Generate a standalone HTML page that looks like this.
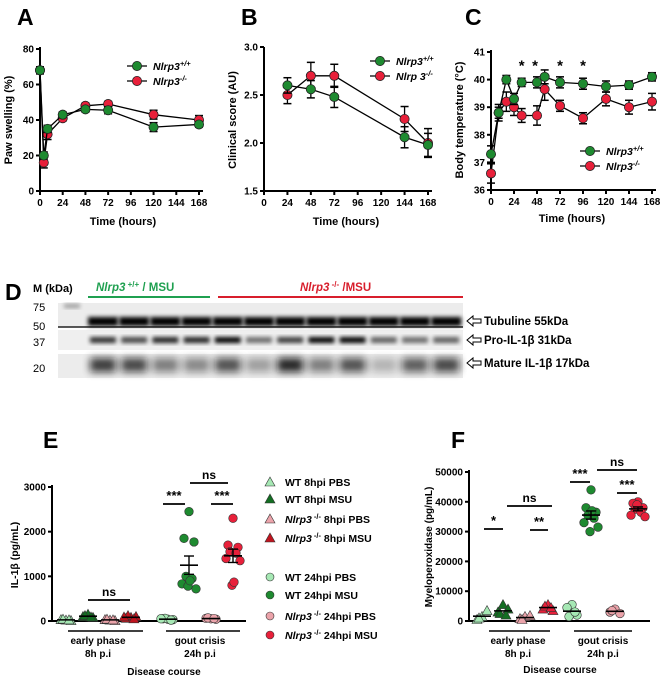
<!DOCTYPE html>
<html><head><meta charset="utf-8"><style>
html,body{margin:0;padding:0;background:#fff}
svg{display:block;font-family:"Liberation Sans",Arial,sans-serif}
</style></head><body>
<svg id="fig" width="665" height="683" viewBox="0 0 665 683" xmlns="http://www.w3.org/2000/svg">
<defs>
<filter id="blur2" x="-20%" y="-50%" width="140%" height="200%"><feGaussianBlur stdDeviation="2.2"/></filter>
<filter id="blur4" x="-30%" y="-80%" width="160%" height="260%"><feGaussianBlur stdDeviation="4"/></filter>
</defs>
<g id="root"></g>
</svg>
<script>
// ---------- DATA ----------
var aTimes=[0,4,8,24,48,72,120,168];
var aWT=[68,20,35,43,46,45.5,36,37.5];
var aWTerr=[2,2,2,1.5,1.5,2,2.5,1.5];
var aKO=[68,16,32,41,48,49,43,40];
var aKOerr=[2,3,3,1.5,1.5,1.5,2.5,2.5];
var aTicksX=[0,24,48,72,96,120,144,168];
var aTicksY=[0,20,40,60,80];

var bTimes=[24,48,72,144,168];
var bWT=[2.6,2.56,2.48,2.06,1.98];
var bWTerr=[0.08,0.09,0.11,0.11,0.12];
var bKO=[2.5,2.7,2.7,2.25,2.0];
var bKOerr=[0.09,0.14,0.12,0.13,0.15];
var bTicksY=[1.5,2.0,2.5,3.0];

var cTimes=[0,8,16,24,32,48,56,72,96,120,144,168];
var cWT=[37.3,38.8,40.0,39.3,39.9,39.9,40.1,39.9,39.85,39.75,39.8,40.1];
var cWTerr=[0.3,0.2,0.15,0.2,0.15,0.2,0.25,0.2,0.2,0.2,0.15,0.15];
var cKO=[36.6,38.8,39.2,39.0,38.7,38.7,39.65,39.05,38.6,39.3,39.0,39.2];
var cKOerr=[0.35,0.3,0.35,0.3,0.25,0.35,0.4,0.2,0.2,0.25,0.25,0.3];
var cTicksY=[36,37,38,39,40,41];
var cStars=[32,46,72,96];

var eWT8PBS=[20,30,10,40,25];
var eWT8MSU=[150,100,80,120,90];
var eKO8PBS=[20,30,10,40,25];
var eKO8MSU=[80,60,100,120,50,90];
var eWT24PBS=[40,50,30,60,20,50];
var eWT24MSU=[2450,1850,1770,1000,950,830,720,780,900];
var eKO24PBS=[50,60,40,70,55];
var eKO24MSU=[2300,1700,1650,1550,1520,1400,1350,800,870];
var eTicksY=[0,1000,2000,3000];

var fWT8PBS=[1500,500,3500,1000];
var fWT8MSU=[5500,3000,4000,2500,2000];
var fKO8PBS=[1500,800,1800,500];
var fKO8MSU=[5500,4000,3500,5000,4500];
var fWT24PBS=[5500,4500,2000,1500,3000];
var fWT24MSU=[44000,38000,36500,35500,34500,33000,31500,30000,37000];
var fKO24PBS=[4000,3000,2500,3500];
var fKO24MSU=[40000,39500,38000,37500,36500,35500,35000,39000];
var fTicksY=[0,10000,20000,30000,40000,50000];

// ---------- HELPERS ----------
var NS="http://www.w3.org/2000/svg";
var root=document.getElementById('root');
function el(tag,attrs,parent,txt){var e=document.createElementNS(NS,tag);for(var k in attrs)e.setAttribute(k,attrs[k]);if(txt!==undefined)e.textContent=txt;(parent||root).appendChild(e);return e;}
function grp(name){var g=el('g',{});


return g;}
var GREEN='#1e8a30',RED='#e8203a',LGREEN='#a6e8b4',PINK='#eba3aa',DRED='#c0141e',DGREEN='#136e22';
function lin(d0,d1,r0,r1){return function(v){return r0+(v-d0)/(d1-d0)*(r1-r0);};}
function txt(x,y,s,opt,parent){opt=opt||{};var a={x:x,y:y,'font-size':opt.size||10,'font-weight':opt.weight||'bold','text-anchor':opt.anchor||'middle',fill:opt.fill||'#000'};if(opt.italic)a['font-style']='italic';if(opt.transform)a.transform=opt.transform;return el('text',a,parent,s);}

function axes(g,x0,y0,x1,y1,ys,yTicks,yFmt,xs,xTicks){
  el('line',{x1:x0,y1:y0,x2:x0,y2:y1,stroke:'#000','stroke-width':2},g);
  el('line',{x1:x0,y1:y0,x2:x1,y2:y0,stroke:'#000','stroke-width':2},g);
  yTicks.forEach(function(t){var y=ys(t);el('line',{x1:x0-4,y1:y,x2:x0,y2:y,stroke:'#000','stroke-width':2},g);txt(x0-6,y+3.5,yFmt(t),{anchor:'end',size:10},g);});
  if(xTicks)xTicks.forEach(function(t){var x=xs(t);el('line',{x1:x,y1:y0,x2:x,y2:y0+4,stroke:'#000','stroke-width':2},g);txt(x,y0+15,String(t),{size:10},g);});
}
function series(g,times,vals,errs,xs,ys,color,name){
  var pts=times.map(function(t,i){return xs(t)+','+ys(vals[i]);}).join(' ');
  var pl=el('polyline',{points:pts,fill:'none',stroke:'#000','stroke-width':1.3},g);
  
  
  times.forEach(function(t,i){var x=xs(t),y=ys(vals[i]),e1=ys(vals[i]+errs[i]),e2=ys(vals[i]-errs[i]);
    el('line',{x1:x,y1:e1,x2:x,y2:e2,stroke:'#000','stroke-width':1.3},g);
    el('line',{x1:x-4,y1:e1,x2:x+4,y2:e1,stroke:'#000','stroke-width':1.5},g);
    el('line',{x1:x-4,y1:e2,x2:x+4,y2:e2,stroke:'#000','stroke-width':1.5},g);
    var c=el('circle',{cx:x,cy:y,r:4.6,fill:color,stroke:'#222','stroke-width':0.8},g);
    
    
  });
}
function legend(g,x,y,color,label,sup){
  el('line',{x1:x-10,y1:y,x2:x+10,y2:y,stroke:'#000','stroke-width':1.3},g);
  el('circle',{cx:x,cy:y,r:4.6,fill:color,stroke:'#222','stroke-width':0.8},g);
  var t=txt(x+16,y+4,label,{anchor:'start',size:10.5,italic:true},g);
  var ts=el('tspan',{dy:-4,'font-size':7.5},t,sup);
}
function panelLabel(x,y,s){var t=txt(x,y,s,{size:23,anchor:'start'});}

// ---------- PANEL A ----------
(function(){var g=grp('panel-a-chart');panelLabel(17,25,'A');
var xs=lin(0,168,40,199),ys=lin(0,80,191,49);
axes(g,40,191,203,47,ys,aTicksY,function(v){return v;},xs,aTicksX);
series(g,aTimes,aKO,aKOerr,xs,ys,RED,'a-ko');
series(g,aTimes,aWT,aWTerr,xs,ys,GREEN,'a-wt');
txt(123,225,'Time (hours)',{size:11},g);
txt(12,120,'Paw swelling (%)',{size:11,transform:'rotate(-90 12 120)'},g);
legend(g,137,66,GREEN,'Nlrp3','+/+');legend(g,137,81,RED,'Nlrp3','-/-');})();

// ---------- PANEL B ----------
(function(){var g=grp('panel-b-chart');panelLabel(241,25,'B');
var xs=lin(0,168,264,428),ys=lin(1.5,3.0,191,47);
axes(g,264,191,432,47,ys,bTicksY,function(v){return v.toFixed(1);},xs,aTicksX);
series(g,bTimes,bKO,bKOerr,xs,ys,RED,'b-ko');
series(g,bTimes,bWT,bWTerr,xs,ys,GREEN,'b-wt');
txt(346,225,'Time (hours)',{size:11},g);
txt(236,120,'Clinical score (AU)',{size:11,transform:'rotate(-90 236 120)'},g);
legend(g,380,61,GREEN,'Nlrp3','+/+');legend(g,380,76,RED,'Nlrp 3','-/-');})();

// ---------- PANEL C ----------
(function(){var g=grp('panel-c-chart');panelLabel(465,25,'C');
var xs=lin(0,168,491,652),ys=lin(36,41,190,52);
axes(g,491,190,656,50,ys,cTicksY,function(v){return v;},xs,aTicksX);
series(g,cTimes,cKO,cKOerr,xs,ys,RED,'c-ko');
series(g,cTimes,cWT,cWTerr,xs,ys,GREEN,'c-wt');
cStars.forEach(function(t){txt(xs(t),ys(40.55)+6,'*',{size:15},g);});
txt(572,222,'Time (hours)',{size:11},g);
txt(463,120,'Body temperature (°C)',{size:11,transform:'rotate(-90 463 120)'},g);
legend(g,590,151,GREEN,'Nlrp3','+/+');legend(g,590,166,RED,'Nlrp3','-/-');})();

// ---------- PANEL D (western blot) ----------
(function(){var g=grp('panel-d-blot');panelLabel(5,300,'D');
txt(33,292,'M (kDa)',{size:11,anchor:'start'},g);
[['75',307],['50',326],['37',342],['20',368]].forEach(function(p){txt(33,p[1]+4,p[0],{size:11,weight:'normal',anchor:'start'},g);});
var t1=txt(96,291,'',{size:11.5,anchor:'start',fill:'#1fa050'},g);
el('tspan',{'font-style':'italic'},t1,'Nlrp3');el('tspan',{dy:-4,'font-size':8},t1,' +/+');el('tspan',{dy:4},t1,' / MSU');
el('line',{x1:88,y1:297,x2:210,y2:297,stroke:'#1fa050','stroke-width':2},g);
var t2=txt(300,291,'',{size:11.5,anchor:'start',fill:'#d81e2c'},g);
el('tspan',{'font-style':'italic'},t2,'Nlrp3');el('tspan',{dy:-4,'font-size':8},t2,' -/-');el('tspan',{dy:4},t2,' /MSU');
el('line',{x1:218,y1:297,x2:463,y2:297,stroke:'#d81e2c','stroke-width':2},g);
// strips
el('rect',{x:58,y:303,width:405,height:24,fill:'#ececec'},g);
el('rect',{x:58,y:330,width:405,height:20,fill:'#efefef'},g);
el('rect',{x:58,y:354,width:405,height:24,fill:'#ececec'},g);
el('line',{x1:58,y1:327,x2:463,y2:327,stroke:'#222','stroke-width':1.5},g);
var proI=[0.8,0.7,0.85,0.85,1,0.55,0.75,1,1,0.6,0.55,0.6];
var matI=[0.8,0.75,0.5,0.45,0.7,0.35,0.9,0.5,0.7,0.25,0.65,0.75];
el('rect',{x:64,y:304,width:16,height:4,fill:'#999',filter:'url(#blur2)'},g);
for(var i=0;i<12;i++){var x=90+i*31.2;
 el('rect',{x:x-2,y:317,width:30,height:9,fill:'#000',filter:'url(#blur2)'},g);
 el('rect',{x:x,y:337,width:26,height:6,fill:'#000',opacity:proI[i],filter:'url(#blur2)'},g);
 el('rect',{x:x,y:358,width:26,height:14,fill:'#111',opacity:matI[i],filter:'url(#blur4)'},g);}
[['Tubuline 55kDa',321],['Pro-IL-1β 31kDa',340],['Mature IL-1β 17kDa',363]].forEach(function(p){
 el('path',{d:'M467 '+p[1]+' l6 -5 v3 h8 v4 h-8 v3 z',fill:'#fff',stroke:'#000','stroke-width':1},g);
 txt(484,p[1]+4,p[0],{size:11.5,anchor:'start'},g);});})();

// ---------- dot plot helper ----------
var jit=[0,-5,5,-3,3,-7,7,-1,1];
function dots(g,vals,x,ys,shape,fill,name,withMean){
 vals.forEach(function(v,i){var cx=x+jit[i%jit.length],cy=ys(v),m;
  if(shape==='c')m=el('circle',{cx:cx,cy:cy,r:4.3,fill:fill,stroke:'#333','stroke-width':0.6},g);
  else m=el('path',{d:'M'+cx+' '+(cy-5)+' l5 9 h-10 z',fill:fill,stroke:'#333','stroke-width':0.6},g);
  
  });
 var mean=vals.reduce(function(a,b){return a+b;},0)/vals.length;
 var sd=Math.sqrt(vals.reduce(function(a,b){return a+(b-mean)*(b-mean);},0)/(vals.length-1)),sem=sd/Math.sqrt(vals.length);
 el('line',{x1:x-9,y1:ys(mean),x2:x+9,y2:ys(mean),stroke:'#000','stroke-width':1.6},g);
 if(withMean){el('line',{x1:x,y1:ys(mean+sem),x2:x,y2:ys(mean-sem),stroke:'#000','stroke-width':1.4},g);
  el('line',{x1:x-5,y1:ys(mean+sem),x2:x+5,y2:ys(mean+sem),stroke:'#000','stroke-width':1.4},g);
  el('line',{x1:x-5,y1:ys(mean-sem),x2:x+5,y2:ys(mean-sem),stroke:'#000','stroke-width':1.4},g);}
}
function sig(g,x1,x2,y,s){el('line',{x1:x1,y1:y,x2:x2,y2:y,stroke:'#000','stroke-width':1.8},g);txt((x1+x2)/2,y-4,s,{size:s==='ns'?12:13},g);}
function bottomLabels(g,c1,c2,b1,b2,yb,dc,dy){
 el('line',{x1:b1[0],y1:yb,x2:b1[1],y2:yb,stroke:'#000','stroke-width':1.5},g);
 el('line',{x1:b2[0],y1:yb,x2:b2[1],y2:yb,stroke:'#000','stroke-width':1.5},g);
 txt(c1,yb+13,'early phase',{size:10},g);txt(c1,yb+26,'8h p.i',{size:10},g);
 txt(c2,yb+13,'gout crisis',{size:10},g);txt(c2,yb+26,'24h p.i',{size:10},g);
 txt(dc,dy,'Disease course',{size:10},g);}

// ---------- PANEL E ----------
(function(){var g=grp('panel-e-chart');panelLabel(43,448,'E');
var ys=lin(0,3000,621,487);
axes(g,52,621,246,485,ys,eTicksY,function(v){return v;});
dots(g,eWT8PBS,66,ys,'t',LGREEN,'e-wt-8h-pbs');dots(g,eWT8MSU,88,ys,'t',DGREEN,'e-wt-8h-msu');
dots(g,eKO8PBS,110,ys,'t',PINK,'e-ko-8h-pbs');dots(g,eKO8MSU,131,ys,'t',DRED,'e-ko-8h-msu');
dots(g,eWT24PBS,168,ys,'c',LGREEN,'e-wt-24h-pbs');dots(g,eWT24MSU,189,ys,'c',GREEN,'e-wt-24h-msu',true);
dots(g,eKO24PBS,211,ys,'c',PINK,'e-ko-24h-pbs');dots(g,eKO24MSU,233,ys,'c',RED,'e-ko-24h-msu',true);
sig(g,88,130,600,'ns');sig(g,163,185,504,'***');sig(g,211,233,504,'***');sig(g,190,228,483,'ns');
bottomLabels(g,98,200,[68,143],[166,240],631,164,675);
txt(18,555,'IL-1β (pg/mL)',{size:10.5,transform:'rotate(-90 18 555)'},g);
var L=[['t',LGREEN,'WT 8hpi PBS',482],['t',DGREEN,'WT 8hpi MSU',499],['t',PINK,'Nlrp3 -/- 8hpi PBS',519],['t',DRED,'Nlrp3 -/- 8hpi MSU',538],
['c',LGREEN,'WT 24hpi PBS',577],['c',GREEN,'WT 24hpi MSU',595],['c',PINK,'Nlrp3 -/-  24hpi PBS',616],['c',RED,'Nlrp3 -/-  24hpi MSU',635]];
L.forEach(function(l){var x=270,y=l[3];
 if(l[0]==='c')el('circle',{cx:x,cy:y,r:4,fill:l[1],stroke:'#333','stroke-width':0.6},g);
 else el('path',{d:'M'+x+' '+(y-5)+' l5 9 h-10 z',fill:l[1],stroke:'#333','stroke-width':0.6},g);
 var t=txt(285,y+4,'',{size:10.5,anchor:'start'},g);
 if(l[2].indexOf('Nlrp3')===0){el('tspan',{'font-style':'italic'},t,'Nlrp3');el('tspan',{dy:-4,'font-size':7.5},t,' -/-');el('tspan',{dy:4},t,l[2].replace('Nlrp3 -/-',''));}
 else t.textContent=l[2];});})();

// ---------- PANEL F ----------
(function(){var g=grp('panel-f-chart');panelLabel(451,448,'F');
var ys=lin(0,50000,621,472);
axes(g,469,621,650,470,ys,fTicksY,function(v){return v;});
dots(g,fWT8PBS,482,ys,'t',LGREEN,'f-wt-8h-pbs');dots(g,fWT8MSU,503,ys,'t',DGREEN,'f-wt-8h-msu');
dots(g,fKO8PBS,525,ys,'t',PINK,'f-ko-8h-pbs');dots(g,fKO8MSU,548,ys,'t',RED,'f-ko-8h-msu');
dots(g,fWT24PBS,572,ys,'c',LGREEN,'f-wt-24h-pbs');dots(g,fWT24MSU,591,ys,'c',GREEN,'f-wt-24h-msu',true);
dots(g,fKO24PBS,615,ys,'c',PINK,'f-ko-24h-pbs');dots(g,fKO24MSU,638,ys,'c',RED,'f-ko-24h-msu',true);
sig(g,484,503,529,'*');sig(g,530,548,530,'**');sig(g,507,552,506,'ns');
sig(g,570,590,482,'***');sig(g,597,637,470,'ns');sig(g,617,637,493,'***');
bottomLabels(g,518,603,[489,550],[574,632],631,560,673);
txt(432,547,'Myeloperoxidase (pg/mL)',{size:10,transform:'rotate(-90 432 547)'},g);})();
</script>
</body></html>
